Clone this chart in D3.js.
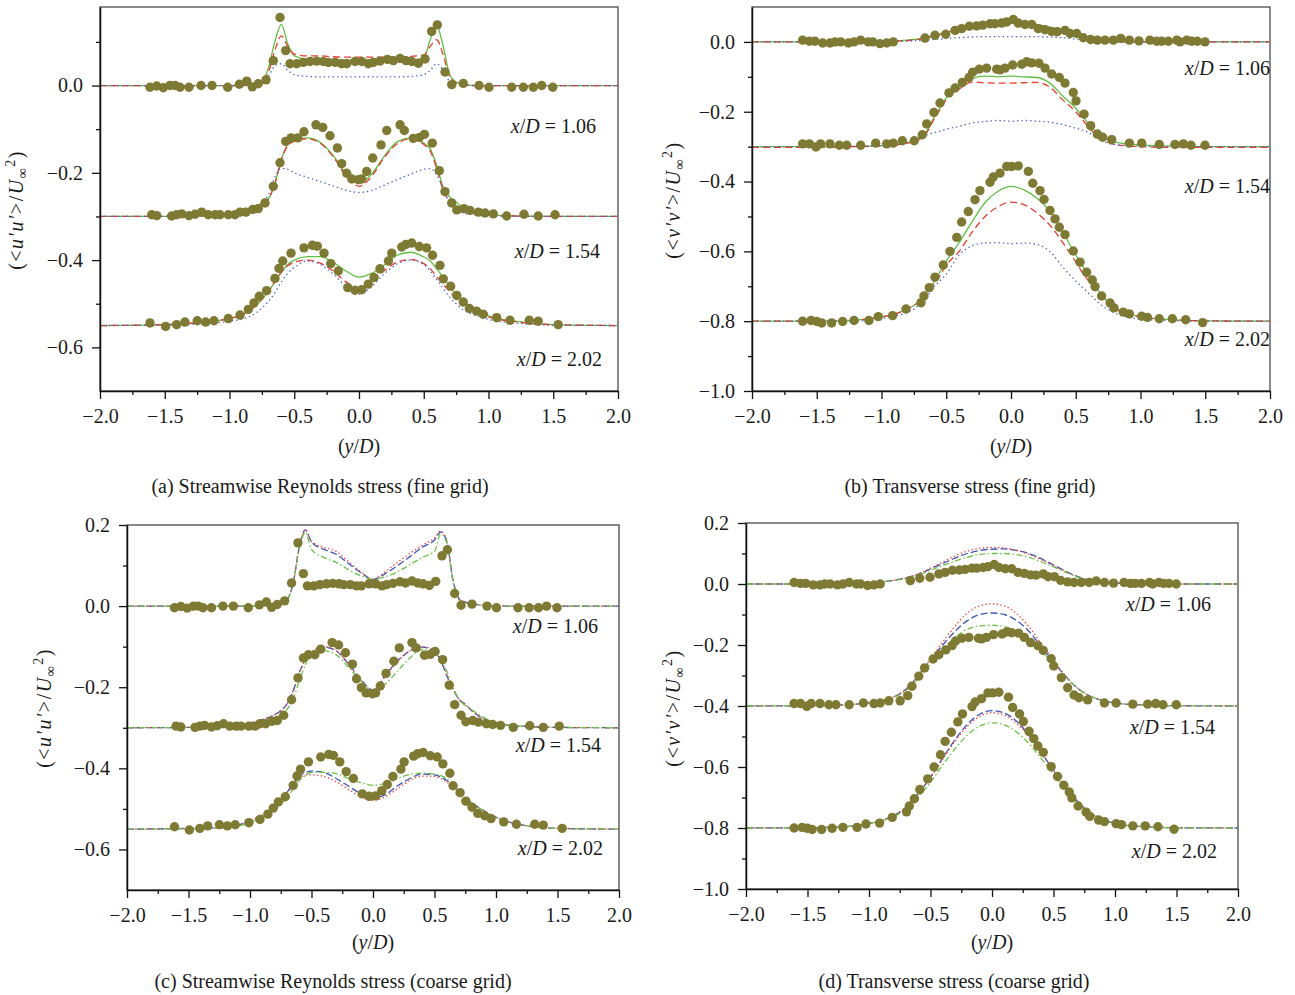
<!DOCTYPE html>
<html>
<head>
<meta charset="utf-8">
<script src="https://cdn.jsdelivr.net/npm/d3@7"></script>
<style>
  body { margin: 0; background: #fff; }
  text { font-family: "Liberation Serif", "Times New Roman", serif; fill: #1a1a1a; }
</style>
</head>
<body>
<svg id="fig" width="1295" height="995"></svg>
<script>
// ---------------------------------------------------------------
// Wake profiles behind the cylinder at three downstream stations.
// Profiles are stacked: each station is shifted by its offset.
// ---------------------------------------------------------------
const stations = ["1.06", "1.54", "2.02"];
const uuOffsets = [0, -0.3, -0.55];
const vvFineOffsets = [0, -0.3, -0.8];
const vvCoarseOffsets = [0, -0.4, -0.8];

const xTicksMajor = [-2, -1.5, -1, -0.5, 0, 0.5, 1, 1.5, 2];
const xTicksMinor = [-1.75, -1.25, -0.75, -0.25, 0.25, 0.75, 1.25, 1.75];

// Experimental data: [y/D, stress]
const expUU106 = [[-1.614,-0.004],[-1.562,-0.001],[-1.511,-0.005],[-1.46,0],[-1.42,0],[-1.382,-0.004],[-1.313,-0.004],[-1.22,0],[-1.135,0],[-1.014,-0.004],[-0.924,0.003],[-0.867,0.01],[-0.824,-0.003],[-0.778,0.004],[-0.718,0.013],[-0.662,0.057],[-0.61,0.156],[-0.566,0.08],[-0.533,0.05],[-0.481,0.05],[-0.43,0.053],[-0.378,0.055],[-0.327,0.056],[-0.276,0.055],[-0.237,0.053],[-0.185,0.053],[-0.134,0.05],[-0.095,0.05],[-0.031,0.055],[0.021,0.055],[0.072,0.05],[0.111,0.053],[0.162,0.056],[0.219,0.06],[0.265,0.057],[0.317,0.062],[0.363,0.057],[0.407,0.055],[0.458,0.051],[0.51,0.061],[0.561,0.124],[0.605,0.139],[0.664,0.031],[0.716,0.002],[0.805,0.005],[0.927,0],[1.004,-0.004],[1.179,-0.004],[1.269,-0.004],[1.346,-0.004],[1.411,0],[1.496,-0.004]];
const expUU154 = [[-1.601,0.004],[-1.562,0.002],[-1.447,0.001],[-1.408,0.004],[-1.369,0.006],[-1.313,0.002],[-1.266,0.005],[-1.215,0.01],[-1.164,0.004],[-1.112,0.004],[-1.073,0.004],[-1.009,0.004],[-0.958,0.004],[-0.919,0.01],[-0.873,0.01],[-0.821,0.016],[-0.778,0.018],[-0.726,0.031],[-0.662,0.069],[-0.61,0.123],[-0.566,0.172],[-0.525,0.18],[-0.473,0.18],[-0.425,0.194],[-0.332,0.21],[-0.28,0.204],[-0.224,0.185],[-0.167,0.157],[-0.134,0.121],[-0.095,0.099],[-0.056,0.086],[-0.005,0.084],[0.021,0.086],[0.059,0.103],[0.106,0.134],[0.17,0.164],[0.214,0.197],[0.317,0.21],[0.35,0.197],[0.419,0.179],[0.466,0.181],[0.505,0.188],[0.566,0.168],[0.62,0.105],[0.664,0.057],[0.716,0.031],[0.755,0.015],[0.811,0.018],[0.857,0.014],[0.922,0.01],[0.973,0.008],[1.037,0.006],[1.14,0.001],[1.274,0.005],[1.384,0.001],[1.514,0.004]];
const expUU202 = [[-1.614,0.006],[-1.493,-0.002],[-1.408,0.002],[-1.344,0.008],[-1.249,0.011],[-1.184,0.008],[-1.12,0.011],[-1.009,0.016],[-0.919,0.024],[-0.855,0.037],[-0.811,0.052],[-0.77,0.067],[-0.713,0.08],[-0.649,0.108],[-0.618,0.131],[-0.589,0.148],[-0.525,0.166],[-0.425,0.178],[-0.36,0.184],[-0.322,0.182],[-0.27,0.166],[-0.218,0.142],[-0.16,0.125],[-0.087,0.087],[-0.031,0.081],[0.021,0.082],[0.072,0.095],[0.116,0.11],[0.162,0.13],[0.227,0.148],[0.253,0.166],[0.33,0.18],[0.363,0.186],[0.407,0.189],[0.466,0.181],[0.522,0.178],[0.568,0.161],[0.625,0.138],[0.651,0.107],[0.708,0.09],[0.755,0.069],[0.805,0.054],[0.852,0.039],[0.908,0.033],[0.96,0.026],[1.063,0.018],[1.166,0.012],[1.315,0.012],[1.384,0.01],[1.538,0.002]];

const expVV106 = [[-1.609,0.005],[-1.557,0.002],[-1.514,0.002],[-1.454,-0.003],[-1.398,-0.003],[-1.359,0],[-1.315,0],[-1.256,-0.003],[-1.212,0],[-1.161,0.005],[-1.102,0],[-1.068,0],[-1.012,-0.005],[-0.96,-0.003],[-0.909,0],[-0.664,0.011],[-0.587,0.019],[-0.504,0.022],[-0.432,0.033],[-0.381,0.038],[-0.322,0.045],[-0.265,0.046],[-0.218,0.048],[-0.162,0.052],[-0.124,0.052],[-0.072,0.054],[-0.033,0.057],[0.018,0.064],[0.056,0.054],[0.108,0.05],[0.16,0.05],[0.211,0.038],[0.263,0.035],[0.314,0.03],[0.358,0.029],[0.417,0.033],[0.456,0.024],[0.507,0.024],[0.558,0.012],[0.615,0.007],[0.667,0.005],[0.726,0.005],[0.79,0.005],[0.847,0.01],[0.914,0.005],[0.988,0.003],[1.073,0.005],[1.125,0.002],[1.164,0.002],[1.215,0.002],[1.28,0.005],[1.305,0],[1.357,0.005],[1.395,0.002],[1.439,0.002],[1.498,0]];
const expVV154 = [[-1.609,0.008],[-1.557,0.008],[-1.506,-0.001],[-1.47,0.008],[-1.398,0.008],[-1.326,0.004],[-1.269,0.004],[-1.161,0.004],[-1.045,0.01],[-0.96,0.008],[-0.909,0.01],[-0.839,0.017],[-0.747,0.017],[-0.685,0.034],[-0.651,0.065],[-0.595,0.098],[-0.548,0.125],[-0.479,0.154],[-0.432,0.168],[-0.376,0.184],[-0.324,0.198],[-0.296,0.213],[-0.245,0.222],[-0.188,0.225],[-0.11,0.222],[-0.085,0.22],[-0.046,0.225],[0.013,0.234],[0.083,0.236],[0.121,0.243],[0.16,0.24],[0.216,0.239],[0.263,0.225],[0.314,0.208],[0.373,0.198],[0.417,0.182],[0.481,0.155],[0.502,0.131],[0.564,0.093],[0.615,0.06],[0.667,0.036],[0.708,0.027],[0.778,0.02],[0.914,0.01],[1.009,0.01],[1.145,0.006],[1.266,0.006],[1.331,0.008],[1.39,0.004],[1.498,0.004]];
const expVV202 = [[-1.609,0],[-1.544,0.002],[-1.5,-0.001],[-1.462,-0.005],[-1.385,-0.005],[-1.3,-0.001],[-1.212,0.002],[-1.097,0.002],[-1.025,0.013],[-0.914,0.016],[-0.811,0.035],[-0.695,0.053],[-0.672,0.072],[-0.631,0.096],[-0.587,0.126],[-0.523,0.161],[-0.471,0.2],[-0.419,0.24],[-0.381,0.284],[-0.33,0.314],[-0.278,0.348],[-0.24,0.374],[-0.162,0.398],[-0.137,0.413],[-0.085,0.424],[-0.033,0.443],[0.005,0.443],[0.056,0.445],[0.134,0.429],[0.168,0.395],[0.224,0.374],[0.255,0.349],[0.301,0.317],[0.34,0.293],[0.373,0.269],[0.417,0.248],[0.481,0.201],[0.533,0.169],[0.584,0.14],[0.628,0.118],[0.649,0.099],[0.7,0.072],[0.765,0.052],[0.795,0.038],[0.867,0.026],[0.914,0.021],[1.009,0.014],[1.053,0.011],[1.145,0.007],[1.246,0.007],[1.349,0.004],[1.48,-0.004]];

// Simulation profiles, sampled on a common y/D grid
const yGrid = [-2,-1.5,-1.2,-1.0,-0.9,-0.8,-0.75,-0.7,-0.65,-0.6,-0.55,-0.5,-0.4,-0.3,-0.2,-0.1,0,0.1,0.2,0.3,0.4,0.5,0.55,0.6,0.65,0.7,0.75,0.8,0.9,1.0,1.2,1.5,2.0];

// fine grid, <u'u'>
const uuFine106Solid  = [0,0,0,0,0,0.003,0.01,0.04,0.10,0.14,0.095,0.068,0.06,0.058,0.058,0.058,0.058,0.058,0.058,0.058,0.058,0.063,0.105,0.137,0.09,0.025,0.008,0.003,0,0,0,0,0];
const uuFine106Dashed = [0,0,0,0,0,0.003,0.008,0.03,0.08,0.114,0.09,0.072,0.068,0.068,0.066,0.065,0.065,0.065,0.065,0.066,0.067,0.07,0.09,0.105,0.07,0.02,0.006,0.002,0,0,0,0,0];
const uuFine106Dotted = [0,0,0,0,0,0.002,0.006,0.02,0.045,0.05,0.035,0.025,0.021,0.02,0.02,0.02,0.02,0.02,0.02,0.02,0.021,0.025,0.035,0.05,0.035,0.01,0.003,0.001,0,0,0,0,0];
const uuFine154Solid  = [0,0,0.002,0.006,0.011,0.024,0.03,0.04,0.075,0.13,0.165,0.175,0.18,0.17,0.14,0.098,0.076,0.098,0.14,0.172,0.18,0.168,0.155,0.117,0.067,0.045,0.033,0.021,0.01,0.005,0.001,0,0];
const uuFine154Dashed = [0,0,0.002,0.006,0.011,0.024,0.03,0.04,0.075,0.13,0.162,0.172,0.178,0.168,0.137,0.093,0.069,0.093,0.137,0.168,0.178,0.165,0.15,0.11,0.06,0.035,0.022,0.013,0.006,0.003,0.001,0,0];
const uuFine154Dotted = [0,0,0.001,0.004,0.008,0.02,0.03,0.05,0.09,0.11,0.108,0.1,0.09,0.08,0.07,0.06,0.055,0.06,0.072,0.085,0.097,0.108,0.11,0.095,0.065,0.03,0.015,0.008,0.004,0.002,0,0,0];
const uuFine202Solid  = [0,0.002,0.008,0.016,0.025,0.045,0.06,0.078,0.1,0.123,0.14,0.15,0.158,0.158,0.145,0.125,0.111,0.12,0.14,0.162,0.168,0.157,0.148,0.13,0.111,0.09,0.07,0.057,0.038,0.022,0.01,0.002,0];
const uuFine202Dashed = [0,0.002,0.008,0.016,0.025,0.045,0.06,0.078,0.1,0.122,0.137,0.145,0.15,0.143,0.125,0.1,0.085,0.1,0.127,0.146,0.151,0.142,0.13,0.112,0.095,0.078,0.062,0.05,0.033,0.02,0.009,0.002,0];
const uuFine202Dotted = [0,0.001,0.004,0.01,0.015,0.028,0.04,0.055,0.075,0.1,0.12,0.133,0.148,0.14,0.118,0.09,0.072,0.09,0.12,0.142,0.15,0.14,0.125,0.105,0.085,0.065,0.05,0.037,0.024,0.014,0.006,0.001,0];

// fine grid, <v'v'>
const vvFine106Solid  = [0,0,0,0.002,0.003,0.005,0.007,0.01,0.013,0.017,0.022,0.027,0.035,0.043,0.05,0.055,0.057,0.055,0.05,0.042,0.032,0.02,0.014,0.009,0.006,0.003,0.002,0.001,0,0,0,0,0];
const vvFine106Dashed = [0,0,0,0.001,0.002,0.004,0.006,0.008,0.012,0.016,0.021,0.027,0.035,0.044,0.051,0.055,0.056,0.054,0.049,0.04,0.03,0.019,0.013,0.008,0.005,0.003,0.002,0.001,0,0,0,0,0];
const vvFine106Dotted = [0,0,0,0,0.001,0.002,0.003,0.004,0.005,0.007,0.008,0.01,0.012,0.014,0.015,0.015,0.015,0.015,0.015,0.014,0.012,0.008,0.006,0.004,0.002,0.001,0,0,0,0,0,0,0];
const vvFine154Solid  = [0,0,0.001,0.003,0.006,0.012,0.016,0.025,0.045,0.08,0.11,0.14,0.17,0.195,0.202,0.2,0.202,0.2,0.198,0.182,0.145,0.11,0.088,0.065,0.045,0.028,0.02,0.013,0.008,0.005,0.002,0,0];
const vvFine154Dashed = [-0.002,-0.002,0,0.002,0.004,0.01,0.014,0.022,0.04,0.075,0.105,0.135,0.165,0.185,0.183,0.182,0.182,0.183,0.184,0.17,0.134,0.1,0.078,0.055,0.036,0.02,0.012,0.006,0.002,0,-0.002,-0.002,-0.002];
const vvFine154Dotted = [0,0,0.001,0.003,0.006,0.012,0.02,0.028,0.034,0.04,0.044,0.05,0.058,0.068,0.072,0.075,0.073,0.075,0.073,0.07,0.063,0.053,0.048,0.04,0.028,0.018,0.01,0.006,0.003,0.002,0,0,0];
const vvFine202Solid  = [0,0,0.003,0.012,0.02,0.035,0.045,0.06,0.085,0.11,0.14,0.172,0.225,0.285,0.34,0.372,0.386,0.376,0.352,0.315,0.255,0.19,0.16,0.13,0.1,0.075,0.055,0.04,0.022,0.013,0.005,0.001,0];
const vvFine202Dashed = [0,0,0.003,0.012,0.02,0.035,0.045,0.058,0.08,0.105,0.13,0.16,0.2,0.255,0.3,0.328,0.341,0.334,0.31,0.275,0.225,0.17,0.14,0.115,0.09,0.068,0.05,0.036,0.02,0.012,0.005,0.001,0];
const vvFine202Dotted = [0,0,0,0.008,0.015,0.025,0.035,0.05,0.07,0.097,0.115,0.135,0.19,0.216,0.224,0.225,0.222,0.224,0.22,0.2,0.155,0.115,0.097,0.08,0.062,0.045,0.033,0.024,0.012,0.006,0.002,0,0];

// coarse grid, <u'u'>
const uuCoarse106Dashed  = [0,0,0,0,0.001,0.003,0.005,0.015,0.055,0.145,0.188,0.158,0.14,0.128,0.105,0.083,0.066,0.08,0.1,0.122,0.145,0.163,0.183,0.16,0.065,0.018,0.01,0.006,0.002,0,0,0,0];
const uuCoarse106Dotted  = [0,0,0,0,0.001,0.003,0.005,0.015,0.055,0.145,0.188,0.16,0.145,0.135,0.11,0.085,0.066,0.085,0.108,0.13,0.15,0.168,0.185,0.16,0.065,0.018,0.01,0.006,0.002,0,0,0,0];
const uuCoarse106DashDot = [0,0,0,0,0.001,0.003,0.005,0.015,0.055,0.14,0.182,0.14,0.12,0.108,0.09,0.075,0.066,0.072,0.085,0.102,0.12,0.135,0.178,0.155,0.06,0.015,0.008,0.005,0.002,0,0,0,0];
const uuCoarse154Dashed  = [0,0.001,0.004,0.012,0.02,0.032,0.042,0.058,0.09,0.135,0.168,0.185,0.199,0.19,0.158,0.12,0.093,0.13,0.165,0.19,0.199,0.187,0.166,0.128,0.095,0.07,0.058,0.043,0.022,0.012,0.004,0.001,0];
const uuCoarse154Dotted  = [0,0.001,0.004,0.012,0.02,0.032,0.042,0.058,0.09,0.135,0.168,0.186,0.2,0.19,0.156,0.117,0.089,0.127,0.163,0.19,0.2,0.19,0.17,0.132,0.097,0.071,0.058,0.043,0.022,0.012,0.004,0.001,0];
const uuCoarse154DashDot = [0,0.001,0.003,0.008,0.014,0.024,0.032,0.045,0.07,0.115,0.155,0.183,0.19,0.18,0.15,0.115,0.093,0.108,0.14,0.172,0.193,0.187,0.166,0.14,0.1,0.07,0.055,0.045,0.025,0.013,0.004,0.001,0];
const uuCoarse202Dashed  = [0,0.002,0.004,0.021,0.036,0.055,0.07,0.09,0.112,0.13,0.14,0.143,0.14,0.125,0.106,0.088,0.077,0.085,0.107,0.125,0.136,0.134,0.129,0.12,0.108,0.092,0.078,0.066,0.046,0.03,0.011,0.002,0];
const uuCoarse202Dotted  = [0,0.001,0.004,0.02,0.034,0.052,0.067,0.086,0.107,0.125,0.133,0.134,0.13,0.117,0.098,0.08,0.071,0.08,0.1,0.12,0.131,0.13,0.125,0.116,0.104,0.09,0.076,0.064,0.045,0.029,0.011,0.002,0];
const uuCoarse202DashDot = [0,0.001,0.003,0.016,0.03,0.047,0.06,0.078,0.098,0.12,0.132,0.14,0.14,0.137,0.125,0.115,0.108,0.113,0.125,0.135,0.138,0.136,0.132,0.125,0.11,0.093,0.078,0.065,0.045,0.029,0.011,0.002,0];

// coarse grid, <v'v'>
const vvCoarse106Dashed  = [0,0,0.002,0.004,0.007,0.012,0.016,0.02,0.026,0.032,0.04,0.05,0.067,0.085,0.1,0.11,0.114,0.115,0.11,0.1,0.083,0.062,0.052,0.042,0.032,0.024,0.017,0.012,0.006,0.003,0.001,0,0];
const vvCoarse106Dotted  = [0,0,0.002,0.004,0.007,0.012,0.016,0.02,0.026,0.033,0.042,0.052,0.072,0.092,0.108,0.117,0.12,0.118,0.11,0.097,0.08,0.06,0.05,0.04,0.031,0.023,0.016,0.011,0.006,0.003,0.001,0,0];
const vvCoarse106DashDot = [0,0,0.002,0.004,0.007,0.011,0.014,0.018,0.023,0.029,0.036,0.045,0.06,0.075,0.088,0.097,0.1,0.1,0.096,0.087,0.073,0.056,0.047,0.038,0.03,0.022,0.016,0.011,0.006,0.003,0.001,0,0];
const vvCoarse154Dashed  = [0,0.001,0.004,0.01,0.018,0.03,0.04,0.055,0.075,0.1,0.125,0.15,0.2,0.245,0.28,0.3,0.305,0.3,0.28,0.245,0.195,0.145,0.12,0.097,0.075,0.057,0.043,0.032,0.018,0.01,0.004,0.001,0];
const vvCoarse154Dotted  = [0,0.001,0.004,0.01,0.018,0.03,0.04,0.055,0.075,0.1,0.127,0.155,0.21,0.262,0.305,0.328,0.335,0.328,0.303,0.26,0.205,0.15,0.123,0.098,0.075,0.057,0.043,0.032,0.018,0.01,0.004,0.001,0];
const vvCoarse154DashDot = [0,0.001,0.004,0.01,0.018,0.028,0.037,0.05,0.068,0.09,0.113,0.138,0.185,0.225,0.252,0.263,0.265,0.26,0.245,0.218,0.18,0.14,0.117,0.095,0.075,0.057,0.043,0.032,0.018,0.01,0.004,0.001,0];
const vvCoarse202Dashed  = [0,0.001,0.004,0.015,0.025,0.04,0.052,0.068,0.088,0.112,0.138,0.167,0.23,0.29,0.34,0.373,0.385,0.377,0.35,0.305,0.248,0.19,0.162,0.134,0.108,0.085,0.066,0.05,0.028,0.015,0.005,0.001,0];
const vvCoarse202Dotted  = [0,0.001,0.004,0.015,0.025,0.04,0.052,0.068,0.088,0.112,0.138,0.165,0.226,0.285,0.333,0.366,0.378,0.37,0.343,0.3,0.245,0.188,0.16,0.132,0.106,0.084,0.065,0.05,0.028,0.015,0.005,0.001,0];
const vvCoarse202DashDot = [0,0.001,0.004,0.014,0.023,0.037,0.048,0.062,0.08,0.102,0.125,0.15,0.207,0.26,0.305,0.334,0.345,0.338,0.315,0.277,0.228,0.177,0.152,0.127,0.102,0.08,0.062,0.048,0.027,0.015,0.005,0.001,0];

// ---------------------------------------------------------------
// Line styles
// ---------------------------------------------------------------
const fineStyles = [
  { stroke: "#5fbf45", dash: null },          // solid
  { stroke: "#e83a2e", dash: "7,4" },         // dashed
  { stroke: "#4a62c8", dash: "1.4,3" }        // dotted
];
const coarseStyles = [
  { stroke: "#3d56b8", dash: "7,3" },         // dashed
  { stroke: "#f04040", dash: "1.4,2.4" },     // dotted
  { stroke: "#6cc248", dash: "6,2.5,1.5,2.5" }// dash-dot
];
const dotColor = "#7e7a33";

// ---------------------------------------------------------------
// Panel layout
// ---------------------------------------------------------------
const panels = [
  {
    left: 100, right: 618, top: 7, bottom: 391,
    yDomain: [-0.7, 0.18], yMajor: [-0.6, -0.4, -0.2, 0], yMinor: [-0.5, -0.3, -0.1, 0.1],
    offsets: uuOffsets, dots: [expUU106, expUU154, expUU202],
    lines: [[uuFine106Solid, uuFine106Dashed, uuFine106Dotted],
            [uuFine154Solid, uuFine154Dashed, uuFine154Dotted],
            [uuFine202Solid, uuFine202Dashed, uuFine202Dotted]],
    styles: fineStyles, comp: "u",
    labelPos: [[596, 133], [600, 258], [602, 366]],
    yTitle: [23, 210], xTitle: [359, 453],
    caption: [320, 493, "(a) Streamwise Reynolds stress (fine grid)"]
  },
  {
    left: 752, right: 1270, top: 7, bottom: 391,
    yDomain: [-1.0, 0.1], yMajor: [-1.0, -0.8, -0.6, -0.4, -0.2, 0], yMinor: [-0.9, -0.7, -0.5, -0.3, -0.1],
    offsets: vvFineOffsets, dots: [expVV106, expVV154, expVV202],
    lines: [[vvFine106Solid, vvFine106Dashed, vvFine106Dotted],
            [vvFine154Solid, vvFine154Dashed, vvFine154Dotted],
            [vvFine202Solid, vvFine202Dashed, vvFine202Dotted]],
    styles: fineStyles, comp: "v",
    labelPos: [[1270, 75], [1270, 193], [1270, 346]],
    yTitle: [680, 200], xTitle: [1011, 453],
    caption: [970, 493, "(b) Transverse stress (fine grid)"]
  },
  {
    left: 127, right: 619, top: 525, bottom: 890,
    yDomain: [-0.7, 0.2], yMajor: [-0.6, -0.4, -0.2, 0, 0.2], yMinor: [-0.5, -0.3, -0.1, 0.1],
    offsets: uuOffsets, dots: [expUU106, expUU154, expUU202],
    lines: [[uuCoarse106Dashed, uuCoarse106Dotted, uuCoarse106DashDot],
            [uuCoarse154Dashed, uuCoarse154Dotted, uuCoarse154DashDot],
            [uuCoarse202Dashed, uuCoarse202Dotted, uuCoarse202DashDot]],
    styles: coarseStyles, comp: "u",
    labelPos: [[598, 633], [601, 752], [603, 855]],
    yTitle: [51, 708], xTitle: [373, 949],
    caption: [333, 988, "(c) Streamwise Reynolds stress (coarse grid)"]
  },
  {
    left: 746, right: 1238, top: 523, bottom: 889,
    yDomain: [-1.0, 0.2], yMajor: [-1.0, -0.8, -0.6, -0.4, -0.2, 0, 0.2], yMinor: [-0.9, -0.7, -0.5, -0.3, -0.1, 0.1],
    offsets: vvCoarseOffsets, dots: [expVV106, expVV154, expVV202],
    lines: [[vvCoarse106Dashed, vvCoarse106Dotted, vvCoarse106DashDot],
            [vvCoarse154Dashed, vvCoarse154Dotted, vvCoarse154DashDot],
            [vvCoarse202Dashed, vvCoarse202Dotted, vvCoarse202DashDot]],
    styles: coarseStyles, comp: "v",
    labelPos: [[1211, 611], [1215, 734], [1217, 858]],
    yTitle: [680, 708], xTitle: [992, 949],
    caption: [954, 988, "(d) Transverse stress (coarse grid)"]
  }
];

const svg = d3.select("#fig");
const fmt = d3.format(".1f");
const FS = 20;

panels.forEach((p, pi) => {
  const x = d3.scaleLinear().domain([-2, 2]).range([p.left, p.right]);
  const y = d3.scaleLinear().domain(p.yDomain).range([p.bottom, p.top]);
  const g = svg.append("g");

  const clipId = "clip" + pi;
  g.append("clipPath").attr("id", clipId)
    .append("rect")
    .attr("x", p.left).attr("y", p.top)
    .attr("width", p.right - p.left).attr("height", p.bottom - p.top);

  // frame
  g.append("rect")
    .attr("x", p.left).attr("y", p.top)
    .attr("width", p.right - p.left).attr("height", p.bottom - p.top)
    .attr("fill", "none").attr("stroke", "#4a4a4a").attr("stroke-width", 1.3);

  // simulated profiles
  const plot = g.append("g").attr("clip-path", `url(#${clipId})`);
  p.lines.forEach((set, si) => {
    const off = p.offsets[si];
    set.forEach((vals, li) => {
      const st = p.styles[li];
      const line = d3.line()
        .x((d, i) => x(yGrid[i]))
        .y(d => y(d + off))
        .curve(d3.curveMonotoneX);
      plot.append("path")
        .attr("d", line(vals))
        .attr("fill", "none")
        .attr("stroke", st.stroke)
        .attr("stroke-width", 1.3)
        .attr("stroke-dasharray", st.dash);
    });
  });

  // experimental points
  p.dots.forEach((pts, si) => {
    const off = p.offsets[si];
    plot.selectAll(null).data(pts).enter().append("circle")
      .attr("cx", d => x(d[0]))
      .attr("cy", d => y(d[1] + off))
      .attr("r", 4.7)
      .attr("fill", dotColor);
  });

  // axes
  g.append("g").attr("transform", `translate(0,${p.bottom})`)
    .call(d3.axisBottom(x).tickValues(xTicksMajor).tickFormat(fmt).tickSize(8).tickPadding(10).tickSizeOuter(0));
  g.append("g").attr("transform", `translate(0,${p.bottom})`)
    .call(d3.axisBottom(x).tickValues(xTicksMinor).tickFormat("").tickSize(4).tickSizeOuter(0))
    .select(".domain").remove();
  g.append("g").attr("transform", `translate(${p.left},0)`)
    .call(d3.axisLeft(y).tickValues(p.yMajor).tickFormat(fmt).tickSize(8).tickPadding(9).tickSizeOuter(0));
  g.append("g").attr("transform", `translate(${p.left},0)`)
    .call(d3.axisLeft(y).tickValues(p.yMinor).tickFormat("").tickSize(4).tickSizeOuter(0))
    .select(".domain").remove();

  g.selectAll(".domain").attr("stroke", "#111").attr("stroke-width", 1.5);
  g.selectAll(".tick line").attr("stroke", "#111").attr("stroke-width", 1.3);
  g.selectAll(".tick text").attr("font-size", FS)
    .attr("font-family", "'Liberation Serif', serif").attr("fill", "#1a1a1a");

  // station labels
  p.labelPos.forEach((pos, si) => {
    const t = g.append("text").attr("x", pos[0]).attr("y", pos[1])
      .attr("text-anchor", "end").attr("font-size", FS);
    t.append("tspan").attr("font-style", "italic").text("x");
    t.append("tspan").text("/");
    t.append("tspan").attr("font-style", "italic").text("D");
    t.append("tspan").text(" = " + stations[si]);
  });

  // y-axis title
  const yt = g.append("text")
    .attr("transform", `translate(${p.yTitle[0]},${p.yTitle[1]}) rotate(-90)`)
    .attr("text-anchor", "middle").attr("font-size", FS)
    .attr("letter-spacing", 1.5);
  yt.append("tspan").text("(<");
  yt.append("tspan").attr("font-style", "italic").text(p.comp + "\u2032" + p.comp + "\u2032");
  yt.append("tspan").text(">/");
  yt.append("tspan").attr("font-style", "italic").text("U");
  yt.append("tspan").attr("dy", 4).attr("font-size", 14).text("\u221E");
  yt.append("tspan").attr("dy", -12).attr("font-size", 14).text("2");
  yt.append("tspan").attr("dy", 8).text(")");

  // x-axis title
  const xt = g.append("text").attr("x", p.xTitle[0]).attr("y", p.xTitle[1])
    .attr("text-anchor", "middle").attr("font-size", FS);
  xt.append("tspan").text("(");
  xt.append("tspan").attr("font-style", "italic").text("y");
  xt.append("tspan").text("/");
  xt.append("tspan").attr("font-style", "italic").text("D");
  xt.append("tspan").text(")");

  // caption
  g.append("text").attr("x", p.caption[0]).attr("y", p.caption[1])
    .attr("text-anchor", "middle").attr("font-size", FS).text(p.caption[2]);
});
</script>
</body>
</html>
